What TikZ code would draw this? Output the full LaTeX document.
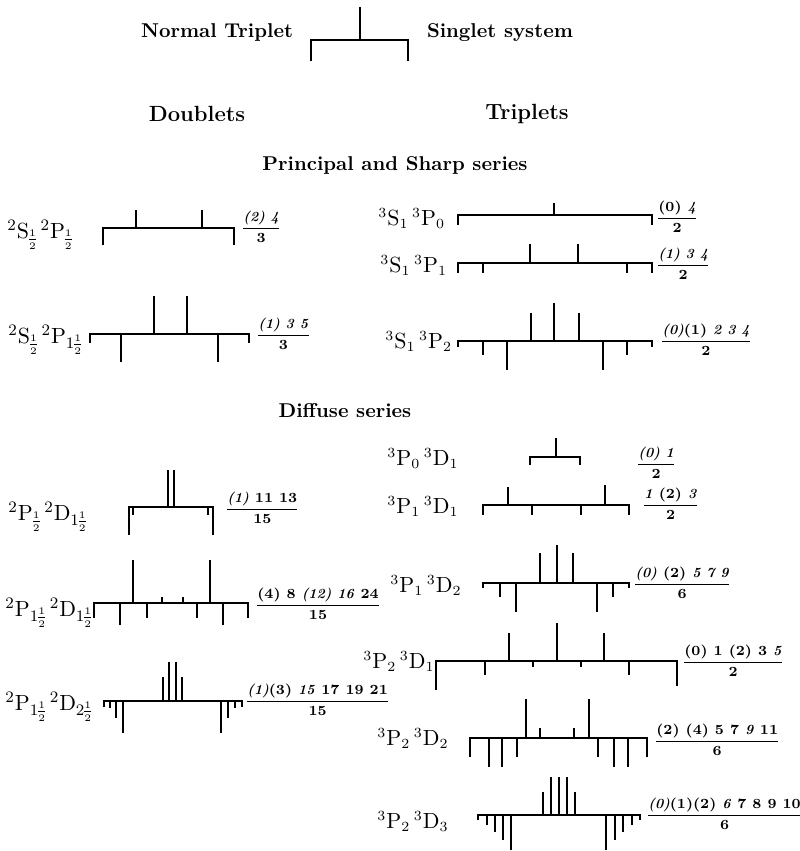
\documentclass[tikz,border=0pt]{standalone}
\usepackage{amsmath}
\setlength{\nulldelimiterspace}{0pt}
\tikzset{
  bar/.style={line width=1.1pt},
  comp/.style={line width=0.9pt},
  head/.style={font=\bfseries},
  bighead/.style={font=\fontsize{11}{13}\selectfont\bfseries},
  term/.style={anchor=base west, inner sep=0pt, font=\fontsize{11}{13}\selectfont},
  rterm/.style={anchor=base west, inner sep=0pt, font=\fontsize{10.5}{12}\selectfont},
  ratio/.style={anchor=west, inner sep=0pt, font=\fontsize{7}{9}\selectfont\bfseries},
}
\newcommand{\hf}{\frac12}

\begin{document}
\begin{tikzpicture}[x=0.5pt,y=-0.5pt]
\useasboundingbox (0,0) rectangle (799,851);

% headings
\node[head] (normal) at (217,33) {Normal Triplet};
\node[head] (singlet) at (500,33) {Singlet system};
\draw[bar] (311,61) |- (408,40) -- (408,61);
\draw[comp] (360,40) -- (360,7);
\node[bighead] (doublets) at (197,114) {Doublets};
\node[bighead] (triplets) at (527,114) {Triplets};
\node[head] (sharp) at (395,165) {Principal and Sharp series};
\node[head] (diffuse) at (345,411) {Diffuse series};

% principal and sharp, doublets
\node[term] (s1) at (7,238) {${}^2\mathrm{S}_{\hf}\,{}^2\mathrm{P}_{\hf}$};
\draw[bar] (103,245) |- (234,228) -- (234,245);
\foreach \x/\e in {136/210,202/210} \draw[comp] (\x,228) -- (\x,\e);
\node[ratio] (r1) at (243,227) {$\dfrac{\text{\textit{(2) 4}}}{\text{3}}$};

\node[term] (s2) at (8,343) {${}^2\mathrm{S}_{\hf}\,{}^2\mathrm{P}_{1\hf}$};
\draw[bar] (90,343) |- (249,334) -- (249,343);
\foreach \x/\e in {154/296,187/296,121/362,218/362} \draw[comp] (\x,334) -- (\x,\e);
\node[ratio] (r2) at (258,334) {$\dfrac{\text{\textit{(1) 3 5}}}{\text{3}}$};

% principal and sharp, triplets
\node[rterm] (s3) at (378,225) {${}^3\mathrm{S}_1\,{}^3\mathrm{P}_0$};
\draw[bar] (458,225) |- (652,215) -- (652,225);
\draw[comp] (554,215) -- (554,203);
\node[ratio] (r3) at (658,217) {$\dfrac{\text{(0) \textit{4}}}{\text{2}}$};

\node[rterm] (s4) at (380,272) {${}^3\mathrm{S}_1\,{}^3\mathrm{P}_1$};
\draw[bar] (458,273) |- (652,263) -- (652,273);
\foreach \x/\e in {530/244,578/244,483/273,627/273} \draw[comp] (\x,263) -- (\x,\e);
\node[ratio] (r4) at (658,264) {$\dfrac{\text{\textit{(1) 3 4}}}{\text{2}}$};

\node[rterm] (s5) at (385,348) {${}^3\mathrm{S}_1\,{}^3\mathrm{P}_2$};
\draw[bar] (458,347) |- (652,341) -- (652,347);
\foreach \x/\e in {531/313,554/303,579/313,483/355,507/370,603/370,627/355} \draw[comp] (\x,341) -- (\x,\e);
\node[ratio] (r5) at (662,340) {$\dfrac{\text{\textit{(0)}(1) \textit{2 3 4}}}{\text{2}}$};

% diffuse, doublets
\node[term] (d1) at (8,520) {${}^2\mathrm{P}_{\hf}\,{}^2\mathrm{D}_{1\hf}$};
\draw[bar] (129,535) |- (213,507) -- (213,535);
\foreach \x/\e in {168/470,174/470,133/515,208/515} \draw[comp] (\x,507) -- (\x,\e);
\node[ratio] (r6) at (227,508) {$\dfrac{\text{\textit{(1)} 11 13}}{\text{15}}$};

\node[term] (d2) at (5,616) {${}^2\mathrm{P}_{1\hf}\,{}^2\mathrm{D}_{1\hf}$};
\draw[bar] (94,618) |- (248,603) -- (248,618);
\foreach \x/\e in {133/560,162/597,183/597,210/560,120/625,147/618,197/618,223/625} \draw[comp] (\x,603) -- (\x,\e);
\node[ratio] (r7) at (257,604) {$\dfrac{\text{(4) 8 \textit{(12) 16} 24}}{\text{15}}$};

\node[term] (d3) at (5,710) {${}^2\mathrm{P}_{1\hf}\,{}^2\mathrm{D}_{2\hf}$};
\draw[bar] (104,707) |- (242,701) -- (242,707);
\foreach \x/\e in {163/677,169/662,176/662,182/677,110/708,116/718,123/733,221/733,228/718,235/708} \draw[comp] (\x,701) -- (\x,\e);
\node[ratio] (r8) at (247,700) {$\dfrac{\text{\textit{(1)}(3) \textit{15} 17 19 21}}{\text{15}}$};

% diffuse, triplets
\node[rterm] (d4) at (387,465) {${}^3\mathrm{P}_0\,{}^3\mathrm{D}_1$};
\draw[bar] (530,465) |- (580,457) -- (580,465);
\draw[comp] (556,457) -- (556,438);
\node[ratio] (r9) at (638,463) {$\dfrac{\text{\textit{(0) 1}}}{\text{2}}$};

\node[rterm] (d5) at (387,513) {${}^3\mathrm{P}_1\,{}^3\mathrm{D}_1$};
\draw[bar] (483,515) |- (629,505) -- (629,515);
\foreach \x/\e in {508/487,605/485,532/515,581/515} \draw[comp] (\x,505) -- (\x,\e);
\node[ratio] (r10) at (644,504) {$\dfrac{\text{\textit{1} (2) \textit{3}}}{\text{2}}$};

\node[rterm] (d6) at (390,592) {${}^3\mathrm{P}_1\,{}^3\mathrm{D}_2$};
\draw[bar] (483,588) |- (629,583) -- (629,588);
\foreach \x/\e in {540/553,557/545,573/553,500/597,516/612,597/612,613/597} \draw[comp] (\x,583) -- (\x,\e);
\node[ratio] (r11) at (635,583) {$\dfrac{\text{\textit{(0)} (2) \textit{5 7 9}}}{\text{6}}$};

\node[rterm] (d7) at (363,668) {${}^3\mathrm{P}_2\,{}^3\mathrm{D}_1$};
\draw[bar] (436,690) |- (677,661) -- (677,686);
\foreach \x/\e in {509/633,557/623,604/633,485/675,533/667,581/667,629/675} \draw[comp] (\x,661) -- (\x,\e);
\node[ratio] (r12) at (684,661) {$\dfrac{\text{(0) 1 (2) 3 \textit{5}}}{\text{2}}$};

\node[rterm] (d8) at (377,745) {${}^3\mathrm{P}_2\,{}^3\mathrm{D}_2$};
\draw[bar] (470,757) |- (647,738) -- (647,757);
\foreach \x/\e in {526/699,540/728,574/728,589/699,489/767,502/767,517/757,598/757,614/767,628/767} \draw[comp] (\x,738) -- (\x,\e);
\node[ratio] (r13) at (656,740) {$\dfrac{\text{(2) (4) 5 7 \textit{9} 11}}{\text{6}}$};

\node[rterm] (d9) at (377,828) {${}^3\mathrm{P}_2\,{}^3\mathrm{D}_3$};
\draw[bar] (478,820) |- (640,815) -- (640,820);
\foreach \x/\e in {543/792,551/777,559/777,567/777,575/792,487/825,495/832,503/840,511/850,606/850,615/840,623/832,632/825} \draw[comp] (\x,815) -- (\x,\e);
\node[ratio] (r14) at (648,814) {$\dfrac{\text{\textit{(0)}(1)(2) \textit{6} 7 8 9 10}}{\text{6}}$};
\end{tikzpicture}
\end{document}
